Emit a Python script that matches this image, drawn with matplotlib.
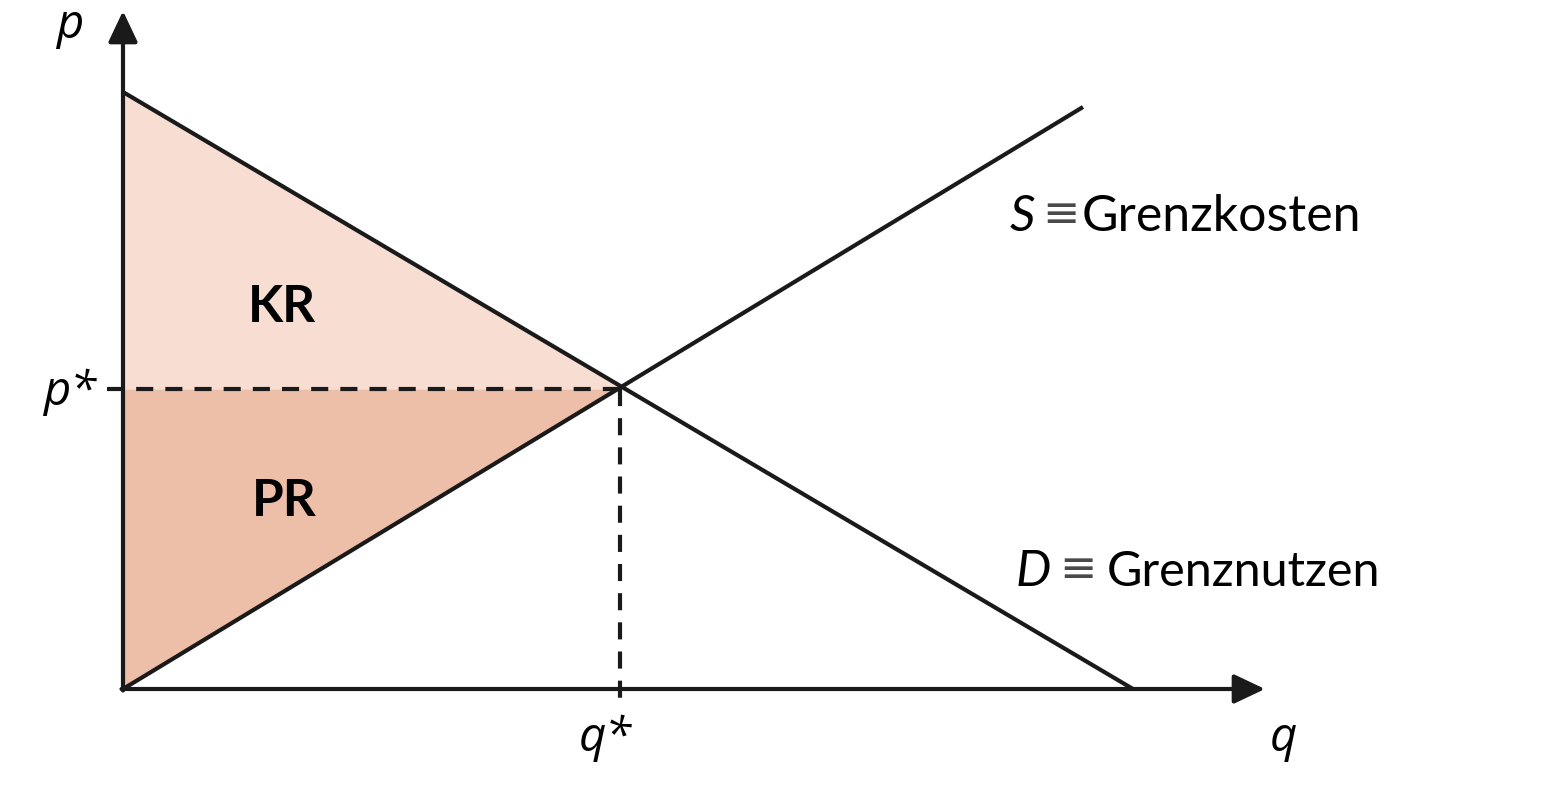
import matplotlib
matplotlib.use("Agg")
from matplotlib import pyplot as plt
import numpy as np

# values (1 unit = 100 px)
demand_q = [0.0, 10.1]
demand_p = [5.97, 0.0]
supply_q = [0.0, 9.6]
supply_p = [0.0, 5.82]
q_star = 4.97
p_star = 3.0
axis_top = 6.78
axis_right = 11.42

plt.rcParams['font.family'] = ['Lato', 'DejaVu Sans']
axis_font = ['Open Sans', 'DejaVu Sans']

fig = plt.figure(figsize=(15.68, 8.04), dpi=100)
ax = fig.add_axes([0, 0, 1, 1])
ax.set_xlim(-1.23, 14.45)
ax.set_ylim(-1.14, 6.90)
ax.axis('off')

kr_color = '#F7DDD2'
pr_color = '#EDBFA8'
ink = '#1a1a1a'
lw = 3.0

# surplus areas
qq = np.array([0.0, q_star])
d_line = np.interp(qq, demand_q, demand_p)
s_line = np.interp(qq, supply_q, supply_p)
ax.fill_between(qq, p_star, d_line, color=kr_color, lw=0, zorder=1)
ax.fill_between(qq, s_line, p_star, color=pr_color, lw=0, zorder=1)

# curves
ax.plot(demand_q, demand_p, color=ink, lw=lw, zorder=3, solid_capstyle='butt')
ax.plot(supply_q, supply_p, color=ink, lw=lw, zorder=3, solid_capstyle='butt')

# dashed guides
ax.plot([-0.16, q_star], [p_star, p_star], color=ink, lw=lw,
        dashes=(4.1, 2.9), zorder=2)
ax.plot([q_star, q_star], [p_star, -0.1], color=ink, lw=lw,
        dashes=(4.1, 2.9), zorder=2)

# axes with arrows
arrow = dict(arrowstyle='-|>,head_length=1.9,head_width=0.9', color=ink,
             lw=lw, shrinkA=0, shrinkB=0)
ax.annotate('', xy=(0, axis_top), xytext=(0, -0.015), arrowprops=arrow, zorder=4)
ax.annotate('', xy=(axis_right, 0), xytext=(-0.015, 0), arrowprops=arrow, zorder=4)

# axis labels
ax.text(-0.53, 6.65, 'p', fontsize=34, fontstyle='italic', family=axis_font,
        ha='center', va='center')
ax.text(-0.53, 2.98, 'p*', fontsize=34, fontstyle='italic', family=axis_font,
        ha='center', va='center')
ax.text(q_star - 0.15, -0.48, 'q*', fontsize=34, fontstyle='italic', family=axis_font,
        ha='center', va='center')
ax.text(axis_right + 0.18, -0.48, 'q', fontsize=34, fontstyle='italic', family=axis_font,
        ha='center', va='center')

# area labels
ax.text(1.59, 3.83, 'KR', fontsize=37, fontweight='bold', ha='center', va='center')
ax.text(1.61, 1.88, 'PR', fontsize=37, fontweight='bold', ha='center', va='center')

# curve labels
ax.text(8.87, 4.73, 'S', fontsize=36, fontstyle='italic', ha='left', va='center')
ax.text(9.38, 4.76, '≡', fontsize=32, family='DejaVu Sans', color='#4a4a4a',
        ha='center', va='center')
ax.text(9.59, 4.73, 'Grenzkosten', fontsize=36, ha='left', va='center')
ax.text(8.93, 1.18, 'D', fontsize=36, fontstyle='italic', ha='left', va='center')
ax.text(9.55, 1.21, '≡', fontsize=32, family='DejaVu Sans', color='#4a4a4a',
        ha='center', va='center')
ax.text(9.84, 1.18, 'Grenznutzen', fontsize=35, ha='left', va='center')

fig.savefig('out.png', dpi=100, facecolor='white')
